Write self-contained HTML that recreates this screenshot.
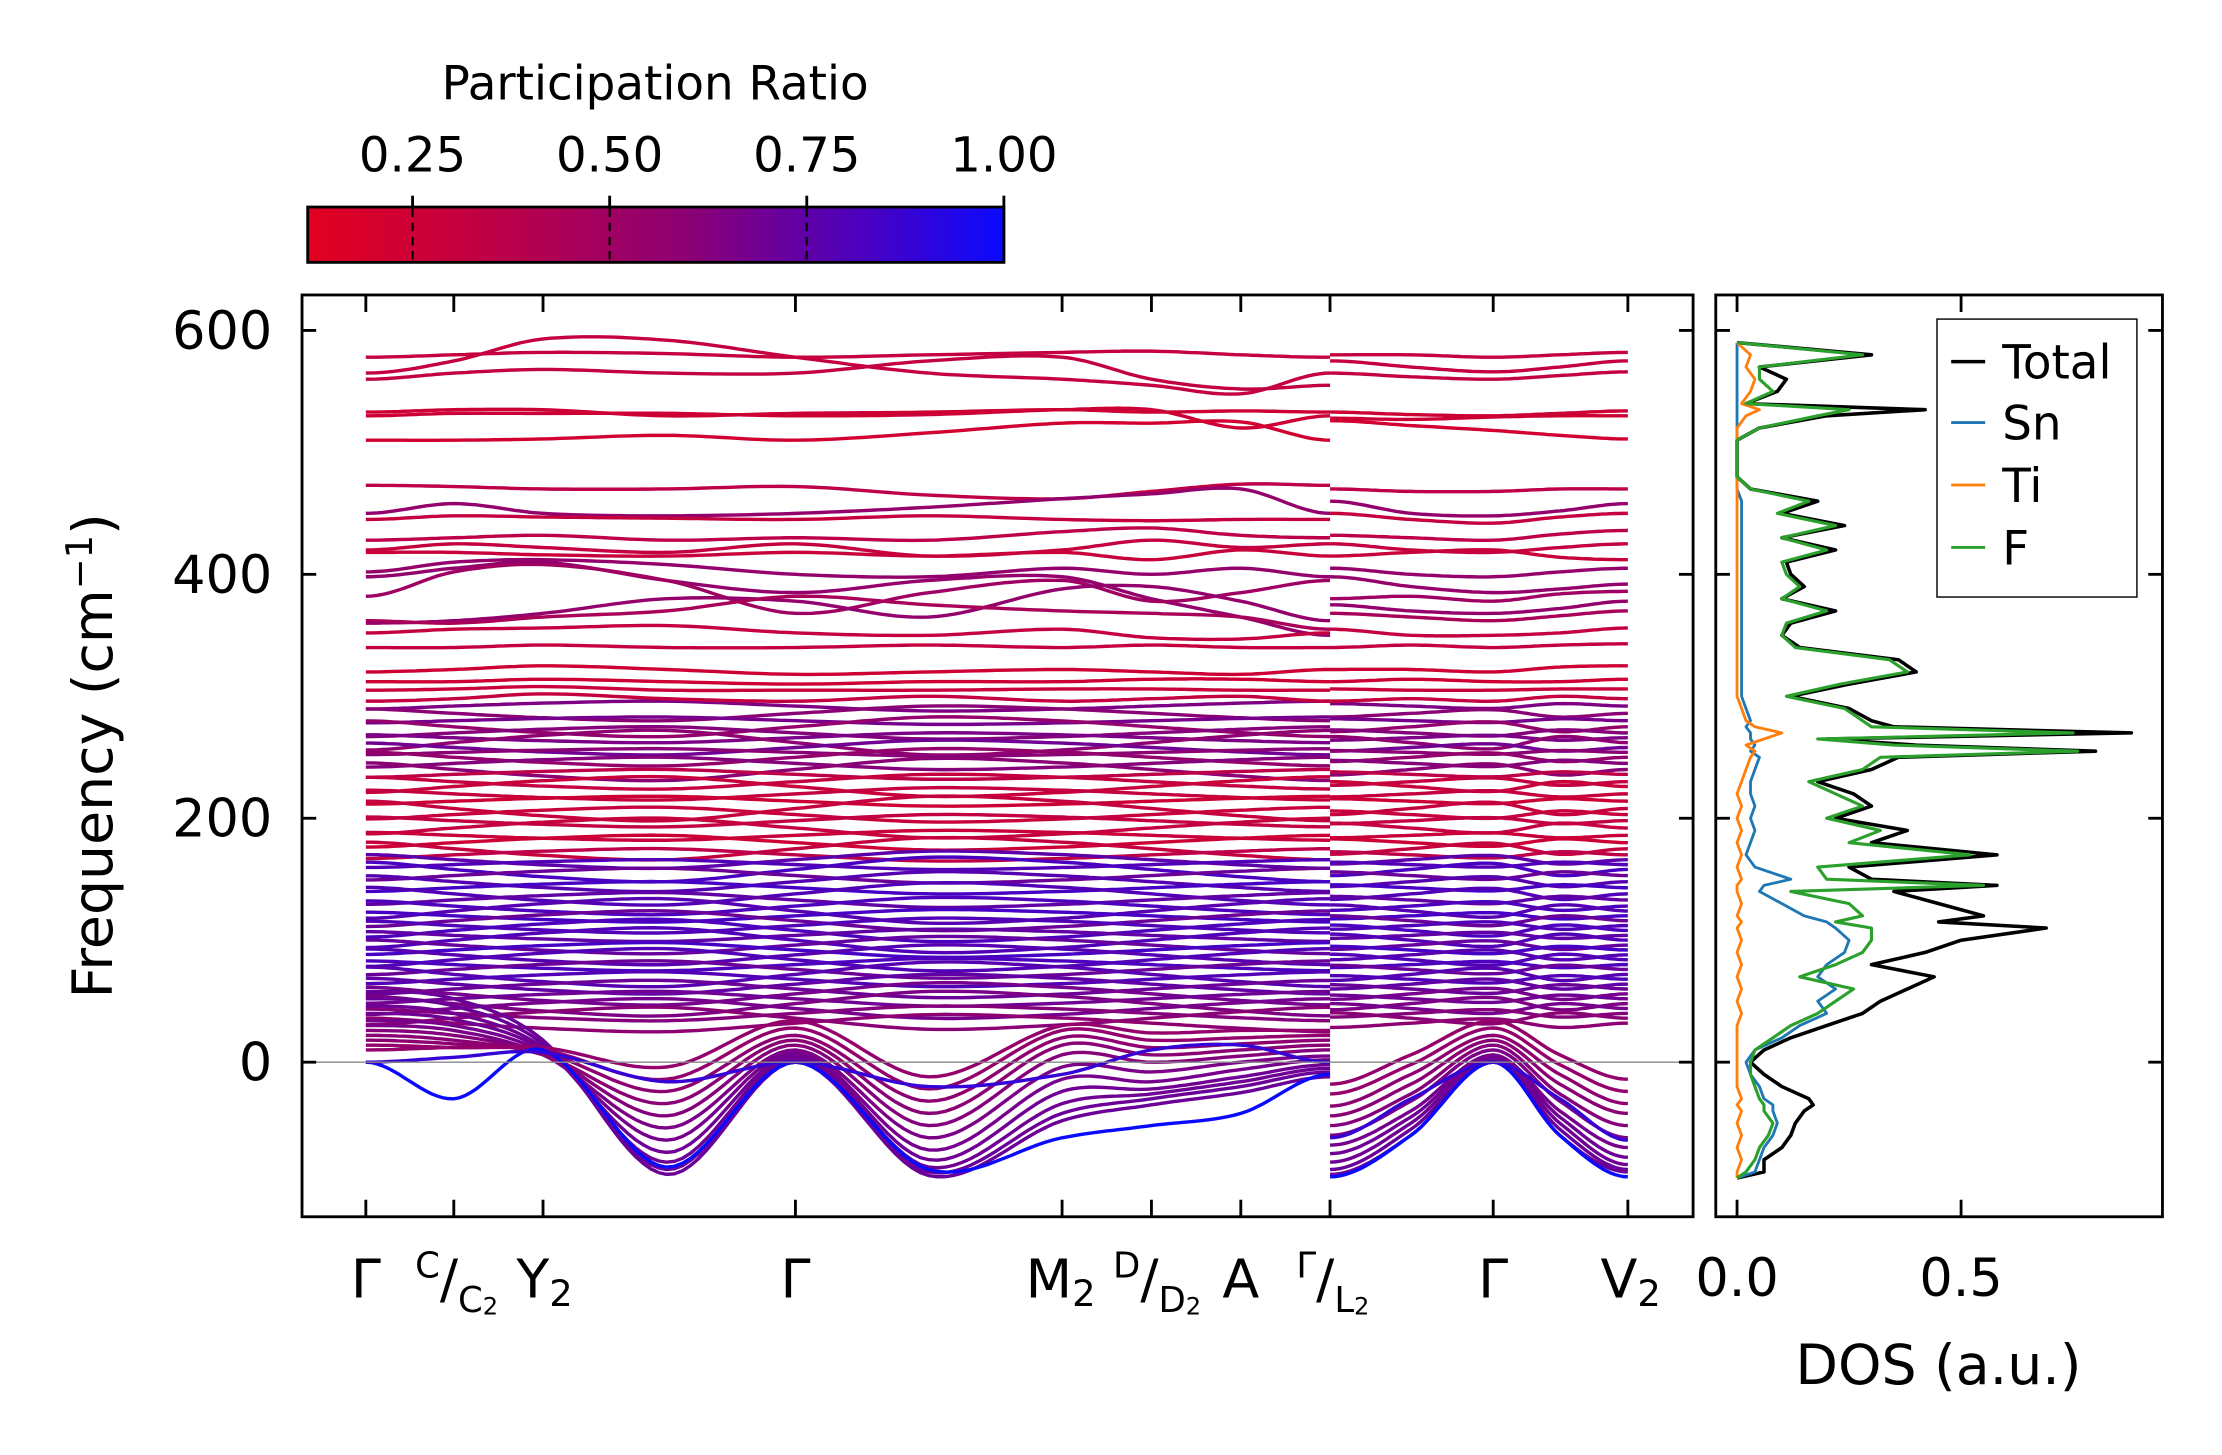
<!DOCTYPE html>
<html><head><meta charset="utf-8">
<style>
html,body{margin:0;padding:0;background:#fff;}
svg{display:block;}
text{font-family:"DejaVu Sans","Liberation Sans",sans-serif;fill:#000;}
</style></head>
<body>
<svg id="fig" width="2222" height="1455" viewBox="0 0 1567 1026" preserveAspectRatio="none" xmlns="http://www.w3.org/2000/svg">
<defs>
<linearGradient id="cmap" x1="0" x2="1" y1="0" y2="0">
<stop offset="0" stop-color="#e3001f"/>
<stop offset="0.3" stop-color="#b8004c"/>
<stop offset="0.55" stop-color="#8a0075"/>
<stop offset="0.8" stop-color="#4a00c0"/>
<stop offset="1" stop-color="#0a0aff"/>
</linearGradient>
<clipPath id="mainClip"><rect x="213" y="208" width="981" height="650"/></clipPath>
<clipPath id="dosClip"><rect x="1210" y="208" width="315" height="650"/></clipPath>
</defs>
<g>
<text x="462" y="70" font-size="33" text-anchor="middle">Participation Ratio</text>
<rect x="217" y="146" width="491" height="39" fill="url(#cmap)" stroke="#000" stroke-width="2"/>
<g id="cbTicks"></g>
</g>
<g id="bands" clip-path="url(#mainClip)"></g>
<line x1="213" x2="1194" y1="749" y2="749" stroke="#888" stroke-width="1"/>
<rect x="213" y="208" width="981" height="650" fill="none" stroke="#000" stroke-width="2"/>
<g id="mainTicks"></g>
<text transform="translate(79,533) rotate(-90)" font-size="39" text-anchor="middle">Frequency (cm<tspan font-size="26" dy="-14">−1</tspan><tspan dy="14">)</tspan></text>
<g id="dos" clip-path="url(#dosClip)"></g>
<rect x="1210" y="208" width="315" height="650" fill="none" stroke="#000" stroke-width="2"/>
<g id="dosTicks"></g>
<text x="1367" y="976" font-size="39" text-anchor="middle">DOS (a.u.)</text>
<g>
<rect x="1366" y="225" width="141" height="196" fill="#fff" stroke="#000" stroke-width="1"/>
<line x1="1376" x2="1400" y1="255" y2="255" stroke="#000" stroke-width="2.5"/><text x="1412" y="267" font-size="33">Total</text>
<line x1="1376" x2="1400" y1="298" y2="298" stroke="#1f77b4" stroke-width="2"/><text x="1412" y="310" font-size="33">Sn</text>
<line x1="1376" x2="1400" y1="342" y2="342" stroke="#ff7f0e" stroke-width="2"/><text x="1412" y="354" font-size="33">Ti</text>
<line x1="1376" x2="1400" y1="386" y2="386" stroke="#2ca02c" stroke-width="2"/><text x="1412" y="398" font-size="33">F</text>
</g>
</svg>
<script>
// ---------- data ----------
const yTicks = [0, 200, 400, 600];
const cbTickValues = [0.25, 0.5, 0.75, 1.0];
const cbTickLabels = ["0.25", "0.50", "0.75", "1.00"];
const kPath1 = [0, 0.0697, 0.1404, 0.2382, 0.3404, 0.4461, 0.5517, 0.6225, 0.6933, 0.7640];
const kPath2 = [0.7640, 0.8281, 0.8933, 0.9461, 1.0];
const kTickPositions = [0, 0.0697, 0.1404, 0.3404, 0.5517, 0.6225, 0.6933, 0.7640, 0.8933, 1.0];
const upperBands = [
 [[578,580,582,581,578,580,582,583,580,578],[580,580,578,580,582],0.3],
 [[565,575,593,592,578,565,560,555,548,565],[575,570,566,570,575],0.3],
 [[560,565,568,565,565,575,578,560,552,555],[565,562,560,563,566],0.32],
 [[533,535,535,530,532,533,535,533,534,533],[533,531,530,532,534],0.25],
 [[530,532,532,532,530,531,535,535,520,530],[528,527,529,530,530],0.25],
 [[510,510,511,514,510,516,524,524,525,510],[526,522,518,514,511],0.22],
 [[473,472,470,470,472,465,462,468,474,473],[470,468,468,470,470],0.35],
 [[450,458,450,448,450,455,462,466,470,450],[460,450,448,452,458],0.55],
 [[445,448,447,446,445,448,445,444,445,445],[450,445,442,447,450],0.3],
 [[428,430,432,428,430,428,435,438,432,430],[432,430,428,433,436],0.35],
 [[420,425,422,418,425,415,420,428,422,425],[425,420,418,422,425],0.3],
 [[418,418,416,415,418,415,418,412,420,415],[415,418,420,414,412],0.28],
 [[402,410,412,408,400,398,405,400,405,398],[405,400,398,402,405],0.55],
 [[398,405,410,395,385,395,398,380,365,350],[398,390,385,388,392],0.55],
 [[382,402,408,395,368,385,395,378,385,395],[380,382,378,384,386],0.5],
 [[360,362,368,380,378,365,388,390,378,362],[375,370,368,372,378],0.55],
 [[362,360,365,370,382,375,370,368,365,355],[368,365,362,366,370],0.45],
 [[352,355,356,358,352,350,355,348,347,352],[355,350,350,352,356],0.3],
 [[340,340,342,340,340,342,340,342,340,340],[340,342,340,342,343],0.3],
 [[320,322,325,322,318,320,322,320,318,322],[322,322,320,324,325],0.25],
 [[312,312,314,312,310,312,312,314,314,312],[312,314,312,312,314],0.25],
 [[305,306,308,305,305,305,306,306,305,305],[306,305,305,306,306],0.28],
 [[296,298,302,298,296,300,296,298,300,296],[296,298,296,300,298],0.3]
];
const midFreqs = [292,286,280,275,270,266,262,258,254,250,245,240,236,230,226,220,214,208,203,198,192,186,180,175,170,166,162,158,153,148,143,138,133,128,124,120,116,112,108,104,100,96,92,88,84,80,76,72,68,64,60,56,52,48,44,40,36,32];
const midAmps  = [4,6,3,8,5,4,10,6,3,7,5,9,4,6,8,5,4,10,6,5,8,4,6,9,5,7,4,10,6,8,5,9,6,7,10,5,8,6,9,5,10,7,6,8,9,5,7,10,6,8,7,9,6,10,8,6,9,7];
const midPR    = [0.65,0.6,0.68,0.55,0.62,0.66,0.58,0.7,0.6,0.55,0.62,0.6,0.35,0.3,0.28,0.3,0.25,0.3,0.28,0.32,0.3,0.28,0.25,0.3,0.35,0.78,0.82,0.85,0.72,0.8,0.86,0.82,0.76,0.84,0.8,0.86,0.72,0.82,0.84,0.76,0.82,0.74,0.86,0.8,0.82,0.84,0.72,0.8,0.82,0.76,0.72,0.68,0.7,0.65,0.68,0.62,0.6,0.58];
const lowBands = [
 [[58,52,18,-92,0,-93,-48,-35,-25,-12],[-92,-60,0,-60,-90],0.72],
 [[52,46,15,-88,2,-90,-42,-30,-20,-8],[-88,-55,0,-55,-88],0.72],
 [[46,40,12,-82,4,-86,-34,-26,-16,-5],[-82,-50,2,-50,-84],0.7],
 [[40,35,10,-74,6,-80,-24,-22,-12,-2],[-75,-45,4,-45,-78],0.7],
 [[34,30,8,-64,8,-72,-14,-16,-6,2],[-68,-40,6,-40,-70],0.68],
 [[30,26,6,-54,10,-62,-4,-8,0,5],[-60,-32,10,-32,-62],0.66],
 [[26,22,6,-44,14,-52,6,0,5,10],[-52,-26,14,-26,-52],0.62],
 [[22,18,6,-34,18,-42,14,6,10,14],[-44,-18,18,-18,-42],0.6],
 [[18,15,8,-24,22,-32,20,12,15,18],[-36,-10,22,-10,-34],0.58],
 [[14,12,10,-14,28,-22,26,18,20,22],[-26,-2,28,-2,-24],0.55],
 [[10,12,12,-4,34,-12,30,24,26,26],[-18,6,34,6,-14],0.55],
 [[0,-30,10,-86,0,-88,-62,-52,-42,-10],[-94,-60,0,-60,-94],1.0],
 [[0,4,8,-16,0,-20,-10,10,14,0],[-62,-30,0,-30,-64],0.9]
];
const dosFreq  = [-95,-90,-80,-70,-60,-50,-40,-35,-30,-20,-10,0,10,20,30,40,50,60,70,80,90,100,110,115,120,130,140,145,150,160,170,180,190,200,210,220,230,240,250,255,260,265,270,275,280,290,300,310,320,330,340,350,360,370,380,390,400,410,420,430,440,450,460,470,480,500,510,520,530,535,540,550,560,570,580,590];
const dosTotal = [0.0,0.06,0.06,0.1,0.12,0.13,0.15,0.17,0.16,0.1,0.06,0.03,0.06,0.12,0.2,0.28,0.32,0.38,0.44,0.3,0.42,0.5,0.69,0.45,0.55,0.45,0.35,0.58,0.3,0.25,0.58,0.3,0.38,0.22,0.3,0.26,0.18,0.3,0.36,0.8,0.4,0.2,0.88,0.35,0.3,0.25,0.12,0.25,0.4,0.36,0.14,0.1,0.12,0.22,0.1,0.15,0.12,0.11,0.22,0.1,0.24,0.1,0.18,0.03,0.0,0.0,0.0,0.05,0.2,0.42,0.02,0.09,0.11,0.05,0.3,0.0];
const dosF     = [0.0,0.02,0.04,0.05,0.07,0.08,0.06,0.06,0.05,0.04,0.03,0.03,0.04,0.08,0.12,0.18,0.22,0.26,0.14,0.22,0.28,0.3,0.3,0.22,0.28,0.25,0.12,0.55,0.2,0.18,0.52,0.25,0.32,0.2,0.28,0.22,0.16,0.28,0.32,0.76,0.35,0.18,0.75,0.3,0.28,0.24,0.11,0.23,0.38,0.34,0.13,0.1,0.11,0.2,0.1,0.14,0.11,0.1,0.2,0.1,0.22,0.09,0.16,0.03,0.0,0.0,0.0,0.05,0.18,0.25,0.02,0.08,0.05,0.05,0.28,0.0];
const dosSn    = [0.0,0.04,0.05,0.06,0.08,0.09,0.08,0.08,0.06,0.05,0.03,0.02,0.04,0.1,0.14,0.2,0.18,0.22,0.18,0.2,0.24,0.25,0.22,0.2,0.15,0.1,0.05,0.06,0.12,0.04,0.02,0.03,0.04,0.03,0.04,0.03,0.03,0.04,0.05,0.03,0.04,0.03,0.03,0.02,0.03,0.02,0.01,0.01,0.01,0.01,0.01,0.01,0.01,0.01,0.01,0.01,0.01,0.01,0.01,0.01,0.01,0.01,0.01,0.0,0.0,0.0,0.0,0.0,0.0,0.0,0.0,0.0,0.0,0.0,0.0,0.0];
const dosTi    = [0.0,0.0,0.01,0.0,0.01,0.0,0.01,0.0,0.01,0.0,0.0,0.0,0.0,0.0,0.0,0.01,0.0,0.01,0.0,0.01,0.0,0.01,0.0,0.01,0.0,0.01,0.0,0.0,0.01,0.0,0.01,0.0,0.01,0.0,0.01,0.0,0.01,0.02,0.03,0.04,0.02,0.06,0.1,0.04,0.02,0.01,0.0,0.0,0.0,0.0,0.0,0.0,0.0,0.0,0.0,0.0,0.0,0.0,0.0,0.0,0.0,0.0,0.0,0.0,0.0,0.0,0.0,0.0,0.02,0.05,0.01,0.03,0.04,0.02,0.03,0.0];
const dosXTicks = [0.0, 0.5];
const dosXLabels = ["0.0", "0.5"];

// ---------- scales ----------
const NS = "http://www.w3.org/2000/svg";
const yScale = f => 749 - f * 0.86;
const kScale = k => 258 + k * 890;
const dScale = d => 1225 + d * 316;
const cbScale = v => 217 + (v - 0.117) * 556;
function prColor(t){
  const stops=[[0.117,[227,0,31]],[0.38,[184,0,76]],[0.6,[138,0,117]],[0.85,[74,0,192]],[1.0,[10,10,255]]];
  for(let i=0;i<stops.length-1;i++){
    const [a,ca]=stops[i],[b,cb]=stops[i+1];
    if(t<=b||i===stops.length-2){const u=Math.max(0,Math.min(1,(t-a)/(b-a)));
      return `rgb(${ca.map((c,j)=>Math.round(c+(cb[j]-c)*u)).join(',')})`;}
  }
}
function mk(tag, attrs, parent){const e=document.createElementNS(NS,tag);for(const k in attrs)e.setAttribute(k,attrs[k]);parent.appendChild(e);return e;}
function smoothPath(ks, vs){
  let d="";
  const n=ks.length;
  for(let i=0;i<n-1;i++){
    const k0=ks[i],k1=ks[i+1];
    const m0 = i===0?0:(vs[i+1]-vs[i-1])/(ks[i+1]-ks[i-1]);
    const m1 = i===n-2?0:(vs[i+2]-vs[i])/(ks[i+2]-ks[i]);
    const h=k1-k0;
    for(let s=0;s<=16;s++){
      if(i>0&&s===0)continue;
      const t=s/16,t2=t*t,t3=t2*t;
      const v=(2*t3-3*t2+1)*vs[i]+(t3-2*t2+t)*h*m0+(-2*t3+3*t2)*vs[i+1]+(t3-t2)*h*m1;
      d+=(d?"L":"M")+kScale(k0+t*h).toFixed(1)+","+yScale(v).toFixed(1);
    }
  }
  return d;
}
const bands=document.getElementById('bands');
function drawBand(p1,p2,pr,name){
  const c=prColor(pr);
  const a=mk('path',{d:smoothPath(kPath1,p1),fill:'none',stroke:c,'stroke-width':2.4},bands);
  
  
  const b=mk('path',{d:smoothPath(kPath2,p2),fill:'none',stroke:c,'stroke-width':2.4},bands);
  
  
}
midFreqs.forEach((f,i)=>{
  const a=midAmps[i], s=(i%2?1:-1);
  const p1=kPath1.map((k,j)=>f+a*s*((j%3)-1)*(j%2?1:-0.6));
  const p2=kPath2.map((k,j)=>f+a*s*0.5*((j%3)-1));
  drawBand(p1,p2,midPR[i],'mid-band-'+i);
});
upperBands.forEach((b,i)=>drawBand(b[0],b[1],b[2],'upper-band-'+i));
lowBands.forEach((b,i)=>drawBand(b[0],b[1],b[2],'low-band-'+i));

const mt=document.getElementById('mainTicks');
yTicks.forEach(v=>{
  const y=yScale(v);
  mk('line',{x1:213,x2:223,y1:y,y2:y,stroke:'#000','stroke-width':2},mt);
  mk('line',{x1:1184,x2:1194,y1:y,y2:y,stroke:'#000','stroke-width':2},mt);
  const t=mk('text',{x:192,y:y+13,'font-size':37,'text-anchor':'end'},mt);
  t.textContent=String(v);
  
  
});
kTickPositions.forEach(k=>{
  const x=kScale(k);
  mk('line',{x1:x,x2:x,y1:846,y2:858,stroke:'#000','stroke-width':2},mt);
  mk('line',{x1:x,x2:x,y1:208,y2:220,stroke:'#000','stroke-width':2},mt);
});
function label(x,html,name){
  const t=mk('text',{x:x,y:915,'font-size':38,'text-anchor':'middle'},mt);
  t.innerHTML=html;
  
  
}
label(258,"Γ","k-label-gamma-1");
label(322,'<tspan font-size="25" dy="-14">C</tspan><tspan dy="14">/</tspan><tspan font-size="25" dy="10">C</tspan><tspan font-size="17" dy="2">2</tspan>',"k-label-c");
label(384,'Y<tspan font-size="26" dy="6">2</tspan>',"k-label-y2");
label(561,"Γ","k-label-gamma-2");
label(748,'M<tspan font-size="26" dy="6">2</tspan>',"k-label-m2");
label(816,'<tspan font-size="25" dy="-14">D</tspan><tspan dy="14">/</tspan><tspan font-size="25" dy="10">D</tspan><tspan font-size="17" dy="2">2</tspan>',"k-label-d");
label(875,"A","k-label-a");
label(940,'<tspan font-size="25" dy="-14">Γ</tspan><tspan dy="14">/</tspan><tspan font-size="25" dy="10">L</tspan><tspan font-size="17" dy="2">2</tspan>',"k-label-l2");
label(1053,"Γ","k-label-gamma-3");
label(1150,'V<tspan font-size="26" dy="6">2</tspan>',"k-label-v2");

const cb=document.getElementById('cbTicks');
cbTickValues.forEach((v,i)=>{
  const x=cbScale(v);
  if(v<1) mk('line',{x1:x,x2:x,y1:147,y2:184,stroke:'#000','stroke-width':1.5,'stroke-dasharray':'6,4'},cb);
  mk('line',{x1:x,x2:x,y1:138,y2:146,stroke:'#000','stroke-width':2},cb);
  const t=mk('text',{x:x,y:121,'font-size':34,'text-anchor':'middle'},cb);
  t.textContent=cbTickLabels[i];
  
  
});

const dos=document.getElementById('dos');
function dosLine(vals,color,w,name){
  const pts=vals.map((v,i)=>dScale(v).toFixed(1)+","+yScale(dosFreq[i]).toFixed(1)).join(" ");
  const p=mk('polyline',{points:pts,fill:'none',stroke:color,'stroke-width':w,'stroke-linejoin':'round'},dos);
  
  
}
dosLine(dosTotal,'#000',2.5,'dos-total-line');
dosLine(dosSn,'#1f77b4',2,'dos-sn-line');
dosLine(dosTi,'#ff7f0e',2,'dos-ti-line');
dosLine(dosF,'#2ca02c',2.2,'dos-f-line');
const dt=document.getElementById('dosTicks');
yTicks.forEach(v=>{
  const y=yScale(v);
  mk('line',{x1:1210,x2:1220,y1:y,y2:y,stroke:'#000','stroke-width':2},dt);
  mk('line',{x1:1515,x2:1525,y1:y,y2:y,stroke:'#000','stroke-width':2},dt);
});
dosXTicks.forEach((v,i)=>{
  const x=dScale(v);
  mk('line',{x1:x,x2:x,y1:846,y2:858,stroke:'#000','stroke-width':2},dt);
  mk('line',{x1:x,x2:x,y1:208,y2:220,stroke:'#000','stroke-width':2},dt);
  const t=mk('text',{x:x,y:914,'font-size':37,'text-anchor':'middle'},dt);
  t.textContent=dosXLabels[i];
  
  
});
</script>
</body></html>
